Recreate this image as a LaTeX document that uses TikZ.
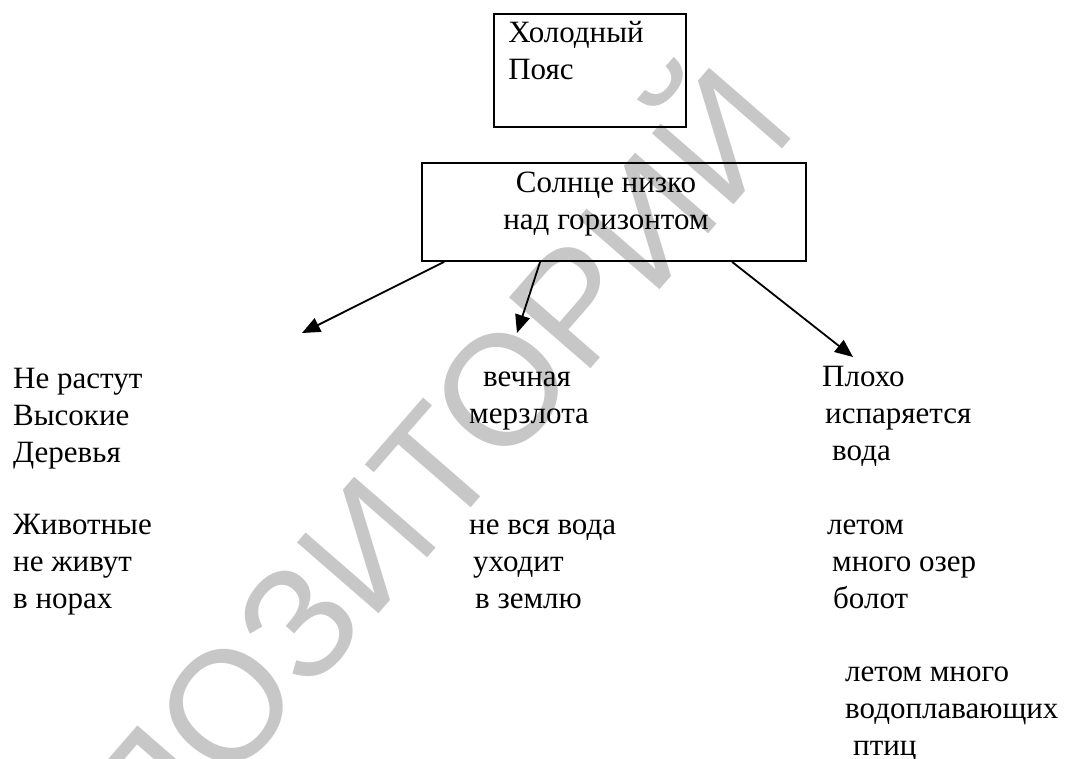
\documentclass[tikz,border=0pt]{standalone}
\usepackage{fontspec}
\setmainfont{Liberation Serif}
\newfontfamily\labelfont{Liberation Serif}
\newfontfamily\wmfont{Liberation Sans}
\usetikzlibrary{positioning, arrows.meta}

\begin{document}
\begin{tikzpicture}[
      x=1pt, y=-1pt,
      box/.style={draw, rectangle, line width=1.8pt, inner sep=0pt},
      txt/.style={align=left, inner sep=0pt, anchor=base west, font=\labelfont\fontsize{31}{37}\selectfont},
      wmark/.style={text=black!22, inner sep=0pt, font=\wmfont\fontsize{157}{157}\selectfont, rotate=49},
      arr/.style={-{Triangle[length=18pt,width=15pt]}, line width=1.8pt}
    ]
    \useasboundingbox (0,0) rectangle (1068,758);
    \node (mark) [wmark] at (355,534) {РЕПОЗИТОРИЙ};

    \node (cold) [box, minimum width=192pt, minimum height=113pt] at (590,70.5) {};
    \node (coldtxt) [txt] at ([xshift=15pt, yshift=-66pt]cold.north west) {Холодный\\Пояс};

    \node (sun) [box, minimum width=384pt, minimum height=98pt] at (614,212) {};
    \node (suntxt) [txt, align=center, anchor=base] at ([xshift=-8pt, yshift=-67pt]sun.north) {Солнце низко\\над горизонтом};

    \node (trees) [txt] at (13,462) {Не растут\\Высокие\\Деревья};
    \node (animals) [txt] at (13,608) {Животные\\не живут\\в норах};
    \node (frost) [txt] at (469,423) {\hspace{14pt}вечная\\мерзлота};
    \node (soil) [txt] at (469,608) {не вся вода\\\hspace{4pt}уходит\\\hspace{6pt}в землю};
    \node (evap) [txt] at (822,460) {Плохо\\\hspace{3pt}испаряется\\\hspace{10pt}вода};
    \node (lakes) [txt] at (827,608) {летом\\\hspace{5pt}много озер\\\hspace{6pt}болот};
    \node (birds) [txt] at (845,755) {летом много\\водоплавающих\\\hspace{8pt}птиц};

    \coordinate (tipL) at (302,333);
    \coordinate (tipM) at (517,333);
    \coordinate (tipR) at (853,357);

    \draw[arr] ([xshift=23pt]sun.south west) -- (tipL);
    \draw[arr] ([xshift=119pt]sun.south west) -- (tipM);
    \draw[arr] ([xshift=311pt]sun.south west) -- (tipR);
  \end{tikzpicture}
\end{document}
